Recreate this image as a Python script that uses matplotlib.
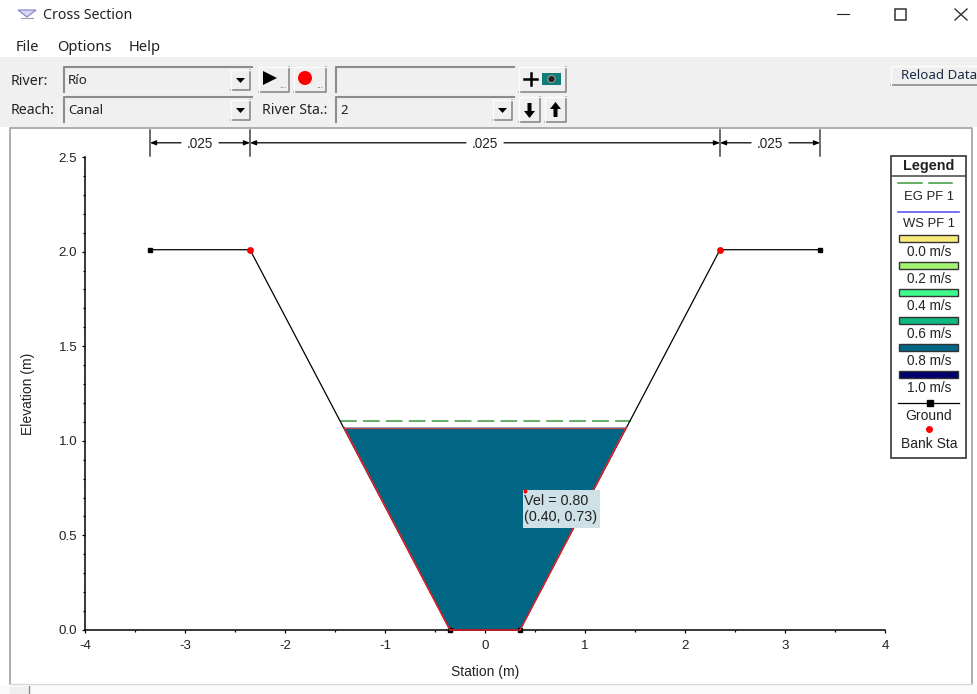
import matplotlib
matplotlib.use("Agg")
import matplotlib.pyplot as plt
from matplotlib.patches import Rectangle, Polygon, Circle
from matplotlib.ticker import MultipleLocator, FormatStrFormatter

plt.rcParams["axes.unicode_minus"] = False

# ---- data ----
ground_x = [-3.35, -2.35, -0.35, 0.35, 2.35, 3.35]
ground_y = [2.01, 2.01, 0.0, 0.0, 2.01, 2.01]
bank_x = [-2.35, 2.35]
bank_y = [2.01, 2.01]
water_x = [-1.41, -0.35, 0.35, 1.41]
water_y = [1.07, 0.0, 0.0, 1.07]
eg_x = [-1.45, 1.46]
eg_y = [1.105, 1.105]
n_bounds = [-3.35, -2.35, 2.35, 3.35]
n_values = [".025", ".025", ".025"]
legend_speeds = ["0.0 m/s", "0.2 m/s", "0.4 m/s", "0.6 m/s", "0.8 m/s", "1.0 m/s"]
legend_colors = ["#F9EA7C", "#A2F472", "#3FFB8C", "#10B883", "#006684", "#00006E"]
water_color = "#006684"
menu_items = ["File", "Options", "Help"]

SANS = "Liberation Sans"
UI = "Noto Sans"
W, H = 978, 694
fig = plt.figure(figsize=(W / 100, H / 100), dpi=100, facecolor="white")

# ---- window chrome, in pixel coordinates ----
ui = fig.add_axes([0, 0, 1, 1], zorder=0)
ui.set_xlim(0, W)
ui.set_ylim(H, 0)
ui.axis("off")

def box(x0, y0, x1, y1, fc="#F0F0F0", ec="none", lw=1.0, z=1):
    ui.add_patch(Rectangle((x0, y0), x1 - x0, y1 - y0, fc=fc, ec=ec, lw=lw, zorder=z))

def label(x, y, s, size=10, ha="left", family=SANS, color="#222222", **kw):
    ui.text(x, y, s, fontsize=size, ha=ha, va="center", family=family, color=color, zorder=6, **kw)

def button(x0, y0, x1, y1):
    box(x0, y0, x1, y1, fc="#EFEFEF", z=2)
    ui.plot([x0, x1, x1], [y1, y1, y0], color="#8A8A8A", lw=1.2, zorder=3)
    ui.plot([x0, x0, x1], [y1, y0, y0], color="#FCFCFC", lw=1.0, zorder=3)

def combo(x0, y0, x1, y1, text, arrow=True):
    box(x0, y0, x1, y1, fc="#F0F0F0", z=2)
    ui.plot([x0, x0, x1], [y1, y0, y0], color="#8C8C8C", lw=1.5, zorder=3)
    if arrow:
        button(x1 - 21, y0 + 3, x1 - 2, y1 - 2)
        ui.add_patch(Polygon([(x1 - 16, y0 + 11), (x1 - 7, y0 + 11), (x1 - 11.5, y0 + 16)],
                             fc="black", ec="none", zorder=4))
    if text:
        label(x0 + 4, (y0 + y1) / 2 + 1, text, size=9.6, family=UI)

box(0, 57, W, 127)                       # toolbar band
ui.plot([10, 10, 972, 972], [684, 128, 128, 684], color="#A0A0A0", lw=1.2, zorder=2)
ui.plot([10, 972], [684, 684], color="#D8D8D8", lw=1.0, zorder=2)
box(0, 685, W, H, fc="#FAFAFA")
box(10, 687, 28, H, fc="#EFEFEF", z=2)
ui.plot([29, 29], [686, H], color="#888888", lw=1.0, zorder=3)

# title bar
ui.add_patch(Polygon([(18, 10), (36, 10), (27, 17)], fc="#D8D8F4", ec="#8080C8", lw=0.8, zorder=3))
ui.plot([21, 33], [18, 18], color="#A0A0A0", lw=0.8, zorder=3)
label(43, 15, "Cross Section", size=10.2, family=UI)
ui.plot([837, 849], [14, 14], color="#222222", lw=0.8, zorder=3)
ui.add_patch(Rectangle((895, 9), 11, 11, fc="none", ec="#333333", lw=1.1, zorder=3))
ui.plot([955, 967], [9, 20], color="#333333", lw=1.0, zorder=3)
ui.plot([955, 967], [20, 9], color="#333333", lw=1.0, zorder=3)

# menu
for x, s in zip([16, 57, 129], menu_items):
    label(x, 47, s, size=10.6, family=UI)

# toolbar controls
label(11, 81, "River:", size=10.2, family=UI)
label(11, 110, "Reach:", size=10.2, family=UI)
label(262, 110, "River Sta.:", size=10.2, family=UI)
combo(64, 67, 252, 92, "Río")
combo(64, 97, 252, 122, "Canal")
combo(336, 97, 514, 122, "2")
combo(336, 67, 514, 92, "", arrow=False)

button(259, 67, 289, 92)
ui.add_patch(Polygon([(263, 71), (263, 85), (277, 78)], fc="black", ec="none", zorder=4))
label(279, 86, "...", size=6, color="#555555")
button(294, 67, 326, 92)
ui.add_patch(Circle((305, 78), 7, fc="#FF0000", ec="none", zorder=4))
label(316, 86, "...", size=6, color="#555555")
button(519, 67, 566, 92)
ui.plot([524, 537], [79, 79], color="black", lw=1.8, zorder=4)
ui.plot([530.5, 530.5], [73, 85], color="black", lw=1.8, zorder=4)
box(542, 73, 561, 85, fc="#0E7C78", z=4)
ui.add_patch(Circle((551.5, 79), 3.6, fc="#222222", ec="#999999", lw=0.8, zorder=5))
button(519, 97, 540, 122)
button(545, 97, 566, 122)
ui.add_patch(Polygon([(527.5, 103), (531.5, 103), (531.5, 111), (535, 111), (529.5, 118), (524, 111), (527.5, 111)],
                     fc="black", ec="none", zorder=4))
ui.add_patch(Polygon([(553.5, 117), (557.5, 117), (557.5, 109), (561, 109), (555.5, 102), (550, 109), (553.5, 109)],
                     fc="black", ec="none", zorder=4))
button(891, 66, 978, 85)
label(901, 75, "Reload Data", size=9.6, color="#1F2A44", family=UI)

# ---- plot ----
ax = fig.add_axes([85 / W, 1 - 630 / H, 800 / W, 473 / H], zorder=2)
ax.patch.set_alpha(0)
ax.set_xlim(-4, 4)
ax.set_ylim(0, 2.5)
for side in ("top", "right"):
    ax.spines[side].set_visible(False)
for side in ("left", "bottom"):
    ax.spines[side].set_linewidth(1.1)
ax.xaxis.set_major_locator(MultipleLocator(1))
ax.xaxis.set_minor_locator(MultipleLocator(0.5))
ax.yaxis.set_major_locator(MultipleLocator(0.5))
ax.yaxis.set_minor_locator(MultipleLocator(0.1))
ax.tick_params(which="major", length=2.5, width=0.9, labelsize=9.6, labelcolor="#222222")
ax.tick_params(which="minor", length=1.6, width=0.9)
ax.tick_params(axis="x", which="major", pad=5)
ax.tick_params(axis="y", which="major", pad=3)
for t in ax.get_xticklabels() + ax.get_yticklabels():
    t.set_family(SANS)
ax.yaxis.set_major_formatter(FormatStrFormatter("%.1f"))
ax.set_xlabel("Station (m)", fontsize=10, family=SANS, labelpad=9, color="#222222")
ax.set_ylabel("Elevation (m)", fontsize=10, family=SANS, labelpad=17, color="#222222")

ax.fill(water_x, water_y, color=water_color, lw=0, zorder=2)
ax.plot(eg_x, eg_y, color="#3C9A3C", lw=1.1, dashes=(11, 4), zorder=3)
ax.plot(ground_x, ground_y, color="black", lw=0.9, marker="s", ms=3.4, mfc="black", mec="black",
        zorder=4, clip_on=False)
ax.plot(water_x, water_y, color="#E8222C", lw=1.1, zorder=5, clip_on=False)
ax.plot([water_x[0], water_x[-1]], [water_y[0], water_y[-1]], color="#C8404A", lw=0.9, zorder=5)
ax.plot(bank_x, bank_y, ls="none", marker="o", ms=3.8, mfc="#FF0000", mec="#FF0000", zorder=6)

# roughness brackets above the plot
trans = ax.get_xaxis_transform()
for x in n_bounds:
    ax.plot([x, x], [1.002, 1.057], color="#444444", lw=1.1, transform=trans, clip_on=False)
for a, b, s in zip(n_bounds[:-1], n_bounds[1:], n_values):
    mid = (a + b) / 2
    half = 0.19
    ax.annotate("", xy=(a, 1.03), xytext=(mid - half, 1.03), xycoords=trans, textcoords=trans,
                arrowprops=dict(arrowstyle="-|>,head_length=0.35,head_width=0.14", color="black", lw=0.9,
                                shrinkA=0, shrinkB=0))
    ax.annotate("", xy=(b, 1.03), xytext=(mid + half, 1.03), xycoords=trans, textcoords=trans,
                arrowprops=dict(arrowstyle="-|>,head_length=0.35,head_width=0.14", color="black", lw=0.9,
                                shrinkA=0, shrinkB=0))
    ax.text(mid, 1.028, s, transform=trans, ha="center", va="center", fontsize=9.8, family=SANS, color="#222222")

# ---- tooltip and legend on top, in pixel coordinates ----
top = fig.add_axes([0, 0, 1, 1], zorder=3)
top.set_xlim(0, W)
top.set_ylim(H, 0)
top.axis("off")
top.patch.set_alpha(0)
ui = top

box(523, 490, 600, 528, fc="#CDE1E6", z=7)
ui.text(523.5, 501, "Vel = 0.80", fontsize=10.4, family=SANS, va="center", color="#222222", zorder=8)
ui.text(523.5, 517, "(0.40, 0.73)", fontsize=10.4, family=SANS, va="center", color="#222222", zorder=8)
ui.plot([525], [491], marker="o", ms=1.8, color="#FF0000", zorder=8)

box(891, 156, 966, 458, fc="white", ec="#444444", lw=1.3, z=2)
ui.plot([891, 966], [176, 176], color="#444444", lw=1.1, zorder=3)
label(929, 166, "Legend", size=10.4, ha="center", weight="bold")
ui.plot([898, 922], [183, 183], color="#3C9A3C", lw=1.1, zorder=3)
ui.plot([929, 952], [183, 183], color="#3C9A3C", lw=1.1, zorder=3)
label(929, 197, "EG PF 1", ha="center", size=9.4)
ui.plot([898, 959], [212, 212], color="#5A5AF0", lw=1.2, zorder=3)
label(929, 224, "WS PF 1", ha="center", size=9.4)
for i, (s, c) in enumerate(zip(legend_speeds, legend_colors)):
    y0 = 235 + i * 27.2
    ui.add_patch(Rectangle((899, y0), 59, 7, fc=c, ec="#333333", lw=1.0, zorder=3))
    label(929, y0 + 17, s, ha="center", size=9.8)
ui.plot([898, 959], [403, 403], color="black", lw=0.9, zorder=3)
ui.plot([930], [403], marker="s", ms=4, color="black", zorder=4)
label(929, 416, "Ground", ha="center", size=10)
ui.plot([929], [429], marker="o", ms=4, color="#FF0000", zorder=4)
label(929, 444, "Bank Sta", ha="center", size=10)

fig.savefig("out.png", dpi=100)
